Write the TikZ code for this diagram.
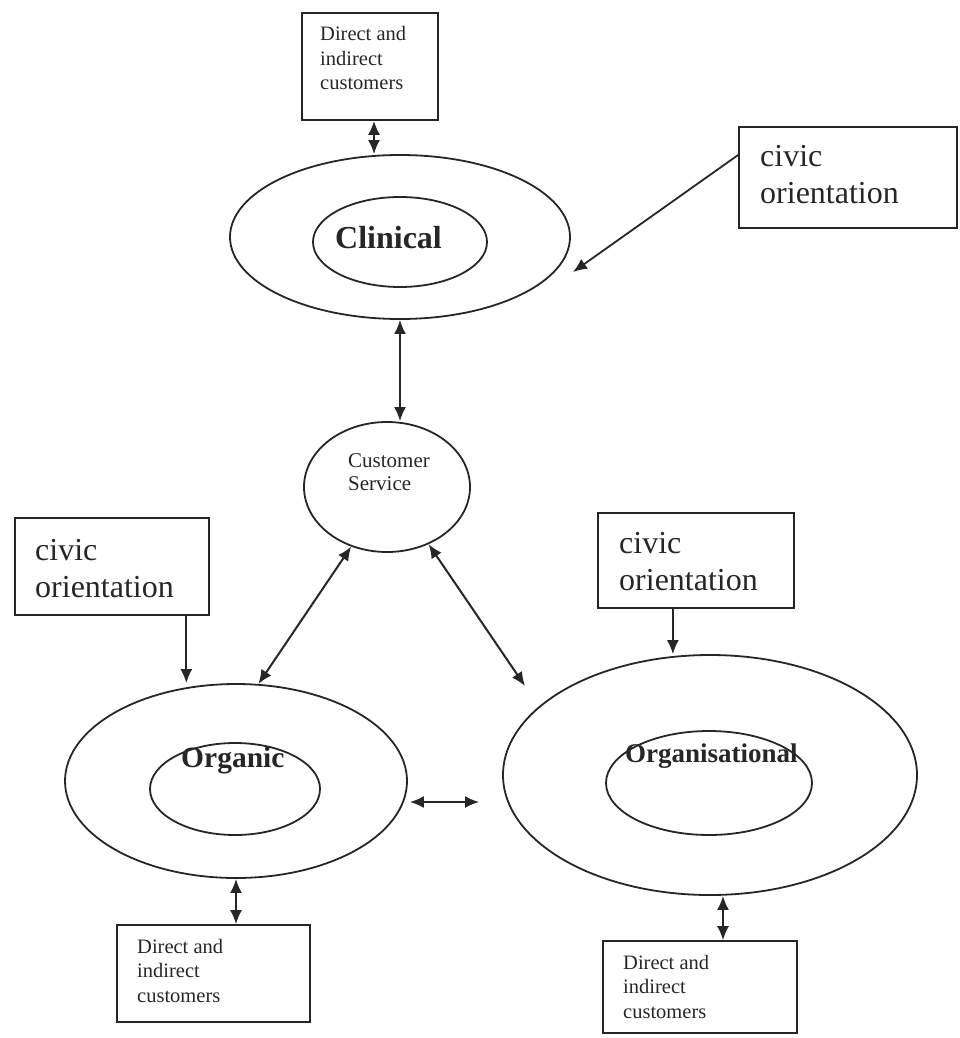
\documentclass[tikz,border=0pt]{standalone}
\usepackage{fontspec}
\setmainfont{Liberation Serif}
\usetikzlibrary{shapes.geometric,arrows.meta,calc}
\definecolor{ink}{HTML}{262626}
\tikzset{
  frame/.style={draw=ink, line width=1.6pt, rectangle, inner sep=0pt},
  ring/.style={draw=ink, ellipse, line width=1.8pt, inner sep=0pt},
  dbl/.style={draw=ink, line width=2pt, {Latex[length=14pt,width=12pt]}-{Latex[length=14pt,width=12pt]}},
  one/.style={draw=ink, line width=1.8pt, -{Latex[length=14pt,width=12pt]}},
  small/.style={text=ink, font=\fontsize{20.5}{24.5}\selectfont, anchor=base west, inner sep=0pt, align=left},
  civictext/.style={text=ink, font=\fontsize{32}{37}\selectfont, anchor=base west, inner sep=0pt, align=left},
  title/.style={text=ink, font=\bfseries, anchor=base west, inner sep=0pt},
}
\begin{document}
\begin{tikzpicture}[x=1pt, y=-1pt]
\useasboundingbox (0,0) rectangle (959,1038);

% boxes
\node[frame, minimum width=136, minimum height=107] (dc1) at (370,66.5) {};
\node[frame, minimum width=218, minimum height=101] (civR) at (848,177.5) {};
\node[frame, minimum width=194, minimum height=97] (civL) at (112,566.5) {};
\node[frame, minimum width=196, minimum height=95] (civM) at (696,560.5) {};
\node[frame, minimum width=193, minimum height=97] (dc2) at (213.5,973.5) {};
\node[frame, minimum width=194, minimum height=92] (dc3) at (700,987) {};

% box texts (placed by the baseline of their last line)
\node[small] (t1) at (320,90) {Direct and\\indirect\\customers};
\node[small] (t2) at (137,1002) {Direct and\\indirect\\customers};
\node[small] (t3) at (623,1018) {Direct and\\indirect\\customers};
\node[civictext] (c1) at (760,203) {civic\\orientation};
\node[civictext] (c2) at (35,597) {civic\\orientation};
\node[civictext] (c3) at (619,590) {civic\\orientation};

% ellipses
\node[ring, minimum width=340, minimum height=164] (clinO) at (400,237) {};
\node[ring, minimum width=174, minimum height=90] (clinI) at (400,242) {};
\node[ring, minimum width=166, minimum height=130] (cs) at (387,487) {};
\node[ring, minimum width=342, minimum height=194] (orgO) at (236,781) {};
\node[ring, minimum width=170, minimum height=92] (orgI) at (235,789) {};
\node[ring, minimum width=414, minimum height=240] (orgsO) at (710,775) {};
\node[ring, minimum width=206, minimum height=104] (orgsI) at (709,783) {};

% ellipse labels
\node[title, font=\bfseries\fontsize{32}{36}\selectfont] (lc) at (335,248) {Clinical};
\node[title, font=\bfseries\fontsize{29.5}{34}\selectfont] (lo) at (181,767) {Organic};
\node[title, font=\bfseries\fontsize{27}{31}\selectfont] (ls) at (625,762) {Organisational};
\node[small, font=\fontsize{21}{23}\selectfont] (lcs) at (348,490) {Customer\\Service};

% connector end points
\coordinate (dc1foot) at ($(dc1.south)+(4,0)$);
\coordinate (civRout) at ($(civR.north west)!0.28!(civR.south west)$);
\coordinate (clinTip) at (573,272);
\coordinate (civLout) at ($(civL.south west)!0.88!(civL.south east)$);
\coordinate (civMout) at ($(civM.south west)!0.383!(civM.south east)$);
\coordinate (rTip) at (525,686);
\coordinate (hL) at ($(orgO.east)+(2,21)$);
\coordinate (hR) at ($(orgsO.west)+(-23,27)$);
\coordinate (orgsFoot) at ($(orgsO.south)+(13,0)$);

% connectors
\draw[dbl] (dc1foot) -- (dc1foot |- clinO.north);
\draw[one] (civRout) -- (clinTip);
\draw[dbl] (clinO.south) -- (clinO.south |- cs.north);
\draw[dbl] (cs.239) -- (orgO.77);
\draw[dbl] (cs.306) -- (rTip);
\draw[one] (civLout) -- (civLout |- orgO.north);
\draw[one] (civMout) -- (civMout |- orgsO.north);
\draw[dbl] (hL) -- (hR);
\draw[dbl] (orgO.south) -- (orgO.south |- dc2.north);
\draw[dbl] (orgsFoot) -- (orgsFoot |- dc3.north);
\end{tikzpicture}
\end{document}
